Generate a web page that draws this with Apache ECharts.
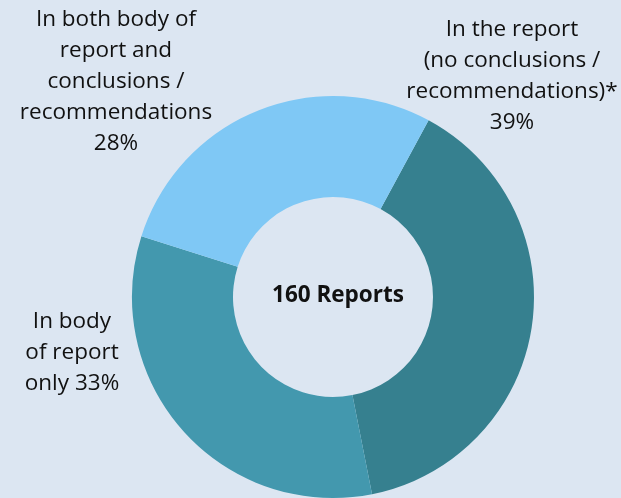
<!DOCTYPE html>
<html><head><meta charset="utf-8">
<script src="https://cdn.jsdelivr.net/npm/echarts@6/dist/echarts.min.js"></script>
<style>html,body{margin:0;padding:0;background:#dce6f2;}#c{width:621px;height:498px;}</style>
</head><body><div id="c"></div>
<script>
var categories = [
  "In the report\n(no conclusions /\nrecommendations)*",
  "In body\nof report\nonly",
  "In both body of\nreport and\nconclusions /\nrecommendations"
];
var values = [39, 33, 28];
var colors = ["#36808f", "#4398ae", "#7fc8f5"];
var totalLabel = "160 Reports";

var labelText = [
  categories[0] + "\n" + values[0] + "%",
  categories[1] + " " + values[1] + "%",
  categories[2] + "\n" + values[2] + "%"
];
var labelPos = [[512, 76], [72, 353], [116, 82]];

var chart = echarts.init(document.getElementById('c'), null, {renderer: 'canvas'});
chart.setOption({
  backgroundColor: '#dce6f2',
  animation: false,
  graphic: [{
    type: 'text', x: 338, y: 296,
    style: {text: totalLabel, font: 'bold 22.5px "Open Sans", sans-serif', fill: '#111', align: 'center', verticalAlign: 'middle'}
  }],
  series: [{
    type: 'pie',
    center: [333, 297],
    radius: [100, 201],
    startAngle: 61.6,
    clockwise: true,
    avoidLabelOverlap: false,
    labelLine: {show: false},
    label: {
      show: true,
      position: 'outside',
      formatter: function (p) { return labelText[p.dataIndex]; },
      color: '#111',
      fontFamily: 'Open Sans',
      fontSize: 22.5,
      lineHeight: 31,
      align: 'center'
    },
    labelLayout: function (p) {
      return {x: labelPos[p.dataIndex][0], y: labelPos[p.dataIndex][1], align: 'center', verticalAlign: 'middle'};
    },
    itemStyle: {borderWidth: 0},
    emphasis: {disabled: true},
    data: values.map(function (v, i) {
      return {value: v, name: categories[i], itemStyle: {color: colors[i]}};
    })
  }]
});
</script></body></html>
